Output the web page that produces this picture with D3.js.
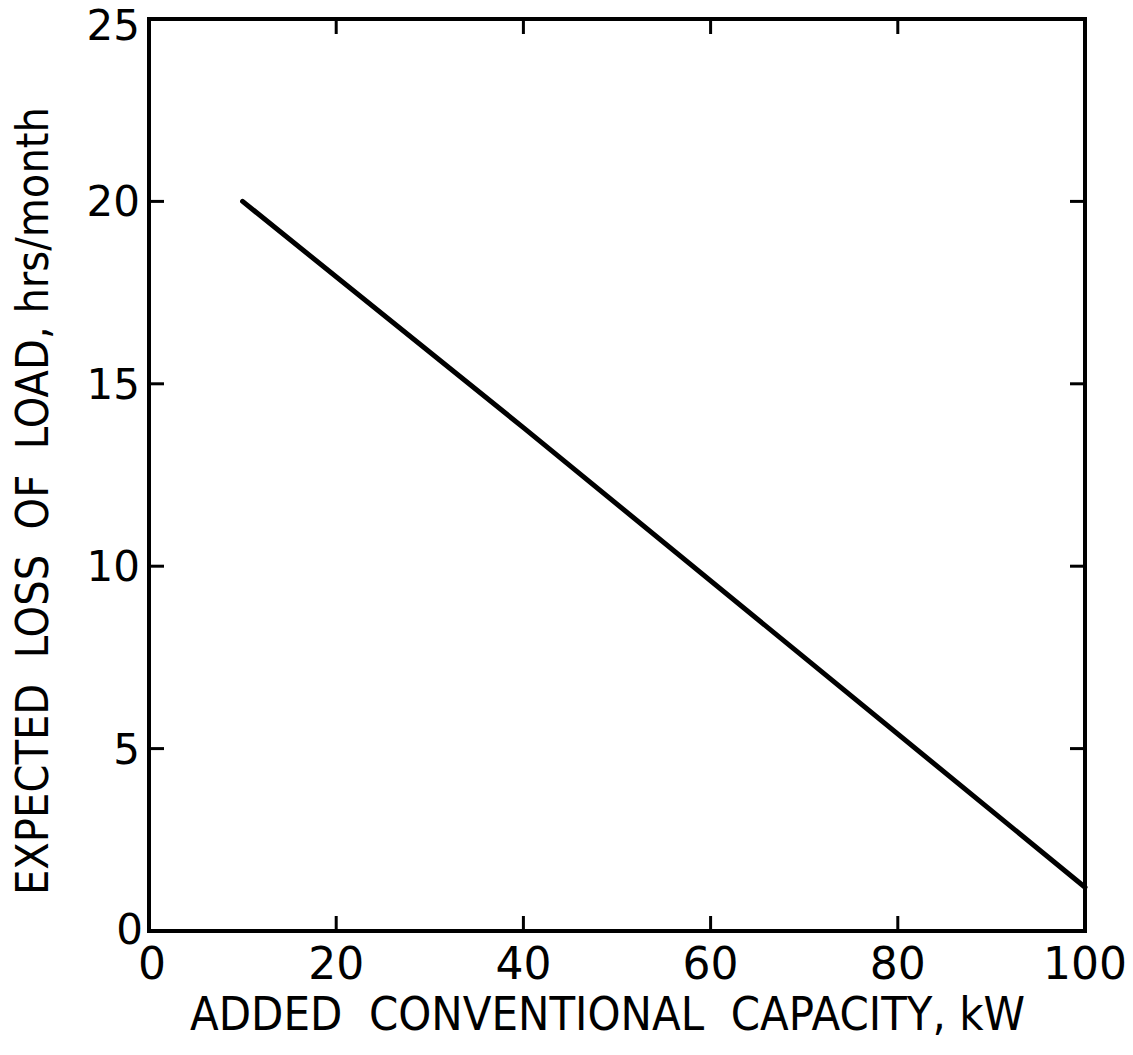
<!DOCTYPE html>
<html>
<head>
<meta charset="utf-8">
<script src="https://cdn.jsdelivr.net/npm/d3@7"></script>
<style>
  html, body { margin: 0; padding: 0; background: #fff; }
  svg { display: block; }
  text { font-family: "DejaVu Sans", sans-serif; fill: #000; white-space: pre; }
</style>
</head>
<body>
<script>
// Expected loss of load versus added conventional capacity
const capacityKW = [10, 40, 70, 100];
const lossHrsPerMonth = [20.0, 13.8, 7.5, 1.2];
const xTicks = [0, 20, 40, 60, 80, 100];
const yTicks = [0, 5, 10, 15, 20, 25];
const xTitle = "ADDED  CONVENTIONAL  CAPACITY, kW";
const yTitle = "EXPECTED  LOSS  OF  LOAD, hrs/month";

const W = 1133, H = 1055;
const m = { left: 149, right: 1085, top: 19, bottom: 931 };

const svg = d3.select("body").append("svg")
  .attr("width", W).attr("height", H);

const x = d3.scaleLinear().domain([0, 100]).range([m.left, m.right]);
const y = d3.scaleLinear().domain([0, 25]).range([m.bottom, m.top]);

const tickLen = 15;

// inner ticks on all four sides (no ticks at the corners)
const g = svg.append("g").attr("stroke", "#000").attr("stroke-width", 3);
xTicks.filter(d => d > 0 && d < 100).forEach(d => {
  g.append("line").attr("x1", x(d)).attr("x2", x(d))
    .attr("y1", m.bottom).attr("y2", m.bottom - tickLen);
  g.append("line").attr("x1", x(d)).attr("x2", x(d))
    .attr("y1", m.top).attr("y2", m.top + tickLen);
});
yTicks.filter(d => d > 0 && d < 25).forEach(d => {
  g.append("line").attr("y1", y(d)).attr("y2", y(d))
    .attr("x1", m.left).attr("x2", m.left + tickLen);
  g.append("line").attr("y1", y(d)).attr("y2", y(d))
    .attr("x1", m.right).attr("x2", m.right - tickLen);
});

// frame
svg.append("rect")
  .attr("x", m.left).attr("y", m.top)
  .attr("width", m.right - m.left).attr("height", m.bottom - m.top)
  .attr("fill", "none").attr("stroke", "#000").attr("stroke-width", 4);

// curve
const line = d3.line()
  .x((d, i) => x(capacityKW[i]))
  .y(d => y(d));
svg.append("path")
  .datum(lossHrsPerMonth)
  .attr("d", line)
  .attr("fill", "none")
  .attr("stroke", "#000")
  .attr("stroke-width", 5)
  .attr("stroke-linecap", "round");

// x tick labels
svg.append("g").selectAll("text").data(xTicks).join("text")
  .attr("x", d => x(d) + (d === 0 ? 3 : 0))
  .attr("y", 979)
  .attr("text-anchor", "middle")
  .attr("font-size", 44)
  .text(d => d);

// y tick labels
svg.append("g").selectAll("text").data(yTicks).join("text")
  .attr("x", d => d === 0 ? 143 : 140)
  .attr("y", d => y(d) + (d === 0 ? 13 : d === 25 ? 21 : 15))
  .attr("text-anchor", "end")
  .attr("font-size", 42)
  .text(d => d);

// axis titles
svg.append("text")
  .attr("x", 190).attr("y", 1030)
  .attr("font-size", 46)
  .attr("textLength", 835)
  .attr("lengthAdjust", "spacingAndGlyphs")
  .text(xTitle);

svg.append("text")
  .attr("transform", "translate(48,895) rotate(-90)")
  .attr("x", 0).attr("y", 0)
  .attr("font-size", 44)
  .attr("textLength", 788)
  .attr("lengthAdjust", "spacingAndGlyphs")
  .text(yTitle);
</script>
</body>
</html>
